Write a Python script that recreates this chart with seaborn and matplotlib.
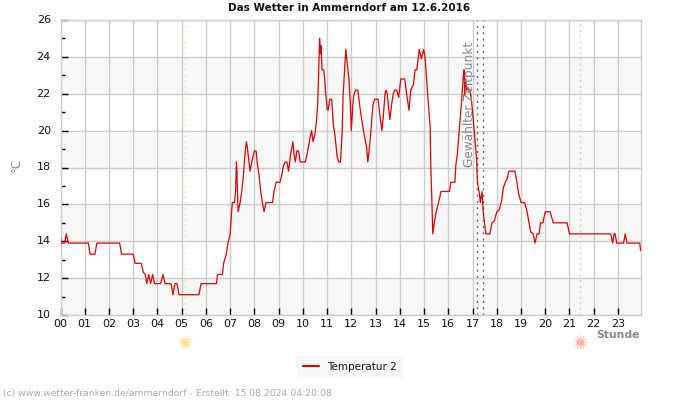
import matplotlib
matplotlib.use("Agg")
import matplotlib.pyplot as plt
from matplotlib.transforms import ScaledTranslation
import seaborn as sns
import pandas as pd

sns.set_theme(style="white")
plt.rcParams['font.family'] = ['DejaVu Sans']

h_a = [0.0,0.03,0.07,0.17,0.24,0.32,1.15,1.22,1.42,1.5,2.44,2.52,3.0,3.08,3.33,3.42,3.5,3.56,3.64,3.72,3.8,3.88,4.13,4.23,4.31,4.56,4.64,4.72,4.81,4.89,5.71,5.8,6.43,6.48,6.68,6.73,6.84,6.91,7.0,7.06,7.09,7.18,7.22,7.25,7.26,7.28,7.3,7.33,7.41]
t_a = [14.2,13.9,13.9,13.9,14.4,13.9,13.9,13.3,13.3,13.9,13.9,13.3,13.3,12.8,12.8,12.3,12.2,11.7,12.2,11.7,12.2,11.7,11.7,12.2,11.7,11.7,11.1,11.7,11.7,11.1,11.1,11.7,11.7,12.2,12.2,12.8,13.3,13.9,14.4,15.6,16.1,16.1,16.7,17.8,18.3,17.8,16.7,15.6,16.1]

h_b = [7.48,7.54,7.59,7.63,7.67,7.71,7.75,7.82,7.89,7.96,8.0,8.07,8.12,8.19,8.26,8.33,8.40,8.48,8.75,8.81,8.9,9.06,9.13,9.2,9.27,9.34,9.41,9.48,9.55,9.59,9.64,9.69,9.75,9.82,9.89,10.1]
t_b = [16.7,17.5,18.3,19.0,19.4,19.1,18.6,17.8,18.3,18.7,18.9,18.9,18.2,17.6,16.7,16.1,15.6,16.1,16.1,16.7,17.2,17.2,17.6,18.1,18.3,18.3,17.8,18.6,19.1,19.4,18.7,18.3,18.9,18.9,18.3,18.3]

h_c = [10.17,10.24,10.31,10.36,10.42,10.51,10.56,10.61,10.64,10.67,10.69,10.72,10.75,10.79,10.86,10.9,10.94,11.0,11.04,11.11,11.19,11.25,11.33,11.41,11.48,11.55,11.62,11.66,11.72,11.77,11.81,11.9,11.96,12.0]
t_c = [18.7,19.2,19.7,20.0,19.4,19.9,20.5,21.4,22.7,24.2,25.0,24.2,24.6,23.3,23.3,22.8,22.0,21.2,21.1,21.7,21.7,20.4,19.7,18.6,18.3,18.3,19.9,21.9,23.3,24.4,23.9,22.8,21.4,20.0]

h_d = [12.06,12.1,12.17,12.27,12.35,12.45,12.54,12.63,12.68,12.77,12.82,12.89,12.96,13.1,13.18,13.26,13.32,13.39,13.43,13.48,13.59,13.66,13.73,13.79,13.87,13.95,14.04,14.2,14.31,14.38,14.45,14.56,14.63,14.7,14.8,14.89,14.98,15.04,15.11,15.18,15.25,15.28]
t_d = [21.4,21.9,22.2,22.2,21.3,20.4,19.7,19.1,18.3,19.4,20.2,21.4,21.7,21.7,20.8,20.0,20.8,22.0,22.2,22.0,20.6,21.4,22.0,22.2,22.2,21.8,22.8,22.8,21.7,21.1,22.2,22.5,23.3,23.3,24.4,23.9,24.4,24.0,22.7,21.4,20.2,18.0]

h_e = [15.32,15.36,15.42,15.5,15.6,15.7,16.05,16.1,16.27,16.31,16.37,16.43,16.5,16.54,16.61,16.65,16.68,16.72,16.75,16.82,16.89,16.96,17.03,17.1,17.17,17.2,17.28,17.32,17.39,17.44,17.5,17.55,17.72]
t_e = [16.3,14.4,15.0,15.6,16.1,16.7,16.7,17.2,17.2,18.1,18.7,19.7,20.8,21.4,22.8,23.3,21.9,22.8,22.2,22.3,22.2,21.6,20.6,19.5,18.4,17.2,16.6,16.1,16.7,15.6,14.9,14.4,14.4]

h_f = [17.8,17.9,18.0,18.1,18.2,18.27,18.35,18.43,18.5,18.75,18.83,18.9,19.0,19.15,19.25,19.33,19.4,19.5,19.58,19.66,19.75,19.8,19.9,20.0,20.2,20.33,20.9,21.0,22.7,22.78,22.84,22.88,22.95,23.23,23.3,23.37,23.9,23.93]
t_f = [15.0,15.1,15.6,15.7,16.2,16.9,17.2,17.4,17.8,17.8,17.2,16.6,16.1,16.1,15.6,15.0,14.5,14.4,13.9,14.4,14.4,15.0,15.0,15.6,15.6,15.0,15.0,14.4,14.4,13.9,14.4,14.4,13.9,13.9,14.4,13.9,13.9,13.5]

hours = h_a + h_b + h_c + h_d + h_e + h_f
temps = t_a + t_b + t_c + t_d + t_e + t_f

hour_labels = [f"{h:02d}" for h in range(24)]
y_major = [10,12,14,16,18,20,22,24,26]
y_minor = [11,13,15,17,19,21,23,25]
bands = [(10,12),(14,16),(18,20),(22,24)]
sunrise, sunset = 5.15, 21.42
selected = [17.2, 17.43]
title = "Das Wetter in Ammerndorf am 12.6.2016"
footer = "(c) www.wetter-franken.de/ammerndorf - Erstellt: 15.08.2024 04:20:08"

df = pd.DataFrame({"Stunde": hours, "Temperatur 2": temps})

fig = plt.figure(figsize=(7,4), dpi=100)
ax = fig.add_axes([60.5/700, 1-315/400, (640.5-60.5)/700, (315-20)/400])
ax.set_facecolor("white")
ax.set_xlim(0, 23.93)
ax.set_ylim(10, 26)

for a, b in bands:
    ax.axhspan(a, b, color="#f8f8f8", lw=0, zorder=0)
ax.set_axisbelow(True)
ax.grid(True, which="major", color="#cccccc", lw=1)

sns.lineplot(data=df, x="Stunde", y="Temperatur 2", estimator=None, sort=False,
             color="#e00000", lw=0.9, ax=ax, label="Temperatur 2", zorder=3)

ax.axvline(sunrise, color="#f5e9a0", lw=1, ls=(0,(1.5,2.5)), zorder=2)
ax.axvline(sunset, color="#f5c98c", lw=1, ls=(0,(1.5,2.5)), zorder=2)
for s in selected:
    ax.axvline(s, color="#666666", lw=1, ls=(0,(1.5,3)), zorder=2)

ax.set_xticks(range(24), hour_labels)
ax.set_yticks(y_major)
ax.set_yticks(y_minor, minor=True)
ax.tick_params(axis="x", which="major", direction="in", length=5, width=1, color="black",
               labelsize=8, pad=3, labelcolor="#111111", bottom=True)
ax.tick_params(axis="y", which="major", direction="in", length=5, width=1, color="black",
               labelsize=8, pad=7, labelcolor="#111111", left=True)
ax.tick_params(axis="y", which="minor", direction="in", length=3, width=1, color="black", left=True)
for lab in ax.get_yticklabels():
    lab.set_transform(lab.get_transform() + ScaledTranslation(0, 1/100, fig.dpi_scale_trans))
for sp in ax.spines.values():
    sp.set_color("#cccccc"); sp.set_linewidth(1)
ax.set_xlabel(""); ax.set_ylabel("")

ax.text(16.87, 21.4, "Gewählter Zeitpunkt", rotation=90, ha="center", va="center",
        fontsize=8.7, color="#888888", zorder=4)

# sun markers below the axis
sun_y = 8.55
for x, c1, c2 in [(sunrise, "#fdeeb5", "#fde3a0"), (sunset, "#fdd2c0", "#fdb8a0")]:
    ax.plot([x],[sun_y], marker=(12,2,0), ms=10, mew=0.8, color=c1, clip_on=False, zorder=5)
    ax.plot([x],[sun_y], marker="o", ms=5.5, color=c2, mew=0, clip_on=False, zorder=6)

fig.text(349.5/700, 1-8/400, title, ha="center", va="center", fontsize=7.5, fontweight="bold", color="#111111")
fig.text(16/700, 1-165/400, "°C", rotation=90, ha="center", va="center", fontsize=8.5, color="#888888")
fig.text(640/700, 1-335/400, "Stunde", ha="right", va="center", fontsize=7.8, fontweight="bold", color="#888888")
fig.text(3/700, 1-393.5/400, footer, ha="left", va="center", fontsize=6.65, color="#aaaaaa")

leg = ax.legend(loc="center", bbox_to_anchor=(350/700, 1-367/400), bbox_transform=fig.transFigure,
                frameon=True, facecolor="#f8f8f8", edgecolor="none", fontsize=7.5, fancybox=False,
                handlelength=1.5, handletextpad=0.8, borderpad=0.55, framealpha=1)
for t in leg.get_texts():
    t.set_color("#111111")
for l in leg.get_lines():
    l.set_linewidth(1.5)

fig.savefig("out.png", dpi=100)
